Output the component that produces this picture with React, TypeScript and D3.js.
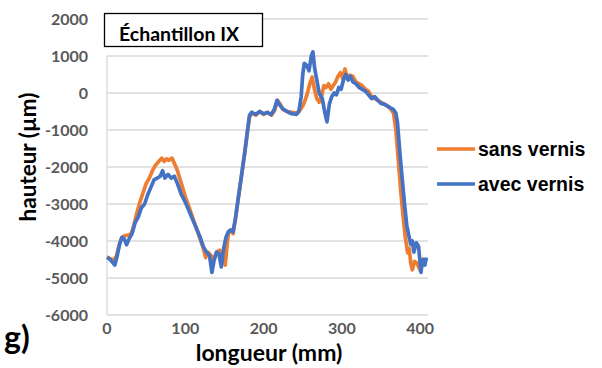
import React from "react";
import * as d3 from "d3";

const xTicks = [0, 100, 200, 300, 400];
const yTicks = [-6000, -5000, -4000, -3000, -2000, -1000, 0, 1000, 2000];
const seriesNames = ["sans vernis", "avec vernis"];
const seriesColors = ["#ED7D31", "#4472C4"];

const sansX = [0,4,8,12,15,18,22,27,31,34,38,42,46,50,54,58,62,66,70,73,76,79,83,86,90,95,100,105,110,115,119,123,126,129,133,137,140,144,148,151,153,155,158,161,164,168,172,176,179,182,185,190,195,200,205,210,214,218,221,225,230,236,242,246,250,253,256,259,262,265,268,271,274,277,280,283,286,289,292,295,298,301,304,307,310,314,318,322,326,330,334,338,342,346,350,354,358,362,366,369,372,375,378,381,384,386,388,390,393,396,400,403,406];
const sansY = [-4430,-4480,-4520,-4420,-4150,-3950,-3860,-3840,-3800,-3600,-3250,-2950,-2700,-2450,-2300,-2100,-1950,-1850,-1760,-1850,-1780,-1820,-1760,-1900,-2100,-2450,-2800,-3100,-3400,-3700,-3950,-4200,-4450,-4300,-4400,-4500,-4300,-4250,-4450,-4650,-4200,-3800,-3700,-3800,-3400,-2800,-2200,-1600,-1100,-650,-550,-600,-500,-580,-520,-600,-480,-200,-300,-450,-500,-520,-540,-480,-350,-200,0,250,430,100,-150,-250,-100,200,150,250,100,200,300,450,550,400,650,400,480,450,300,250,200,100,50,-100,-150,-200,-250,-300,-350,-420,-550,-1000,-1800,-2600,-3300,-3900,-4320,-4200,-4600,-4780,-4550,-4600,-4800,-4500,-4480];

const avecX = [0,3,6,10,13,16,19,22,25,28,32,36,40,44,48,52,56,60,64,68,71,74,78,82,86,90,95,100,105,110,115,119,123,127,131,134,137,140,143,146,149,152,155,158,161,164,168,172,176,179,182,185,190,195,200,205,210,214,217,220,224,230,236,242,245,248,250,252,255,258,261,263,265,268,271,275,278,281,284,287,290,293,296,299,302,305,308,311,314,318,322,326,330,334,338,342,346,350,354,358,362,366,369,371,374,377,380,383,386,388,390,392,395,398,401,403,406,408];
const avecY = [-4450,-4480,-4550,-4650,-4400,-4100,-3900,-3950,-4100,-3950,-3800,-3500,-3350,-3100,-3000,-2750,-2550,-2350,-2300,-2250,-2100,-2300,-2200,-2300,-2250,-2450,-2750,-2950,-3200,-3450,-3700,-3900,-4150,-4300,-4400,-4850,-4500,-4300,-4350,-4700,-4200,-3900,-3750,-3700,-3750,-3400,-2800,-2200,-1600,-1100,-600,-520,-580,-500,-560,-530,-580,-420,-200,-300,-420,-500,-560,-580,-500,-100,500,800,750,600,1000,1110,700,350,0,-150,-500,-780,-300,-100,0,-50,150,100,350,500,350,450,300,250,150,100,50,-50,-150,-100,-200,-280,-300,-350,-400,-450,-550,-800,-1600,-2300,-3000,-3600,-3900,-4100,-4000,-4300,-4050,-4150,-4850,-4500,-4650,-4450];

const W = 602, H = 368;
const x = d3.scaleLinear().domain([0, 410]).range([107, 428]);
const y = d3.scaleLinear().domain([-6000, 2000]).range([315, 19]);

export default function App() {
  const line = d3.line<[number, number]>().x(d => x(d[0])).y(d => y(d[1]));
  const sans = sansX.map((v, i) => [v, sansY[i]] as [number, number]);
  const avec = avecX.map((v, i) => [v, avecY[i]] as [number, number]);
  const font = "Lato, 'Liberation Sans', sans-serif";
  return (
    <svg width={W} height={H} style={{ position: "absolute", left: 0, top: 0, background: "#fff" }}>
      {yTicks.map(t => (
        <g key={t}>
          <line x1={107} x2={428} y1={y(t)} y2={y(t)} stroke="#D9D9D9" strokeWidth={1.3} />
          <text x={88} y={y(t)} dy="0.35em" textAnchor="end" fontFamily={font} fontWeight={700} fontSize={16} fill="#595959">{t}</text>
        </g>
      ))}
      <line x1={107} x2={107} y1={y(1000)} y2={y(-6000)} stroke="#D9D9D9" strokeWidth={1.3} />
      {xTicks.map(t => (
        <text key={t} x={x(t)} y={334} textAnchor="middle" fontFamily={font} fontWeight={700} fontSize={16} fill="#595959">{t}</text>
      ))}
      <path d={line(sans) || ""} fill="none" stroke={seriesColors[0]} strokeWidth={3.7} strokeLinejoin="round" />
      <path d={line(avec) || ""} fill="none" stroke={seriesColors[1]} strokeWidth={3.7} strokeLinejoin="round" />
      <rect x={104.5} y={13.5} width={158} height={33} fill="#fff" stroke="#000" strokeWidth={1.3} />
      <text x={119} y={41} fontFamily={font} fontWeight={700} fontSize={19.5} fill="#000">Échantillon IX</text>
      <text transform={`translate(36,157) rotate(-90)`} textAnchor="middle" fontFamily={font} fontWeight={700} fontSize={22.5} fill="#000">hauteur (µm)</text>
      <text x={269} y={361} textAnchor="middle" fontFamily={font} fontWeight={700} fontSize={23} fill="#000">longueur (mm)</text>
      <text x={4} y={349} fontFamily={font} fontWeight={700} fontSize={32} fill="#000">g)</text>
      {seriesNames.map((n, i) => (
        <g key={n}>
          <line x1={437} x2={475} y1={149 + i * 35} y2={149 + i * 35} stroke={seriesColors[i]} strokeWidth={3.7} />
          <text x={478} y={149 + i * 35} dy="0.35em" fontFamily="'Liberation Sans', Arial, sans-serif" fontWeight={700} fontSize={19.5} fill="#000">{n}</text>
        </g>
      ))}
    </svg>
  );
}
